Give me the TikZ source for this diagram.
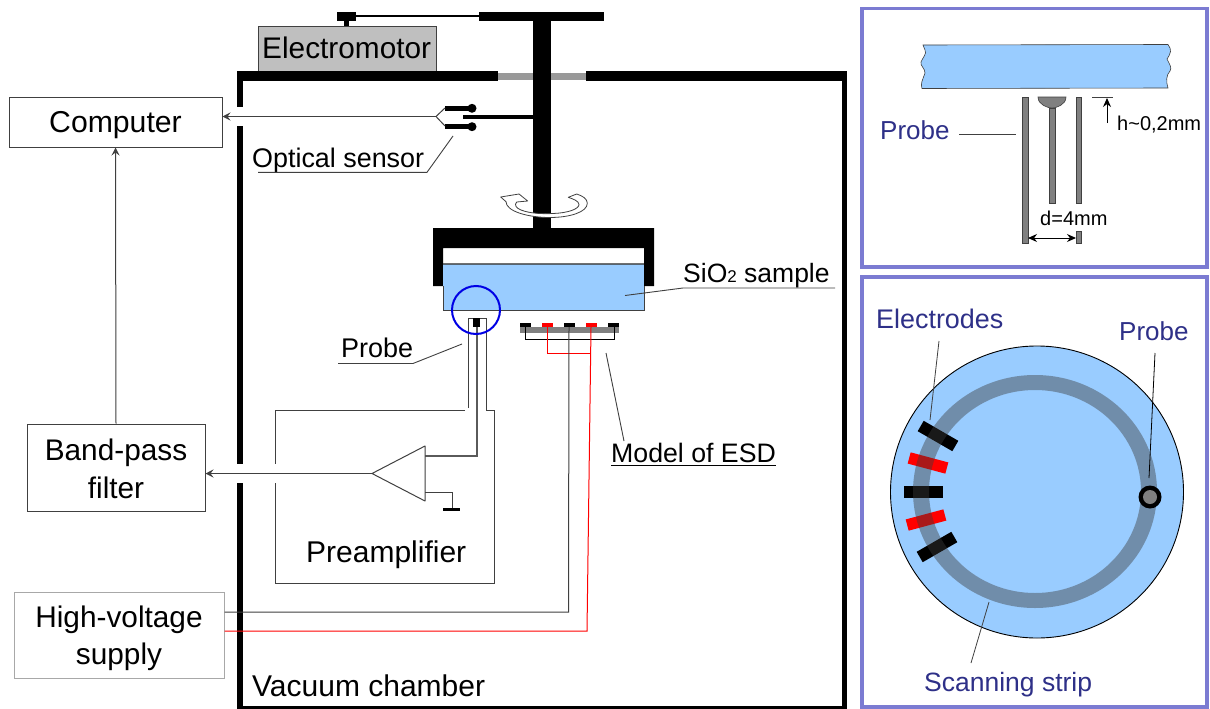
\documentclass[tikz,border=0pt]{standalone}
\usepackage{fontspec}
\setmainfont{Liberation Sans}
\usetikzlibrary{arrows.meta}
\definecolor{sampleblue}{HTML}{99CCFF}
\definecolor{panelblue}{HTML}{7B7BD2}
\definecolor{navytext}{HTML}{2E3088}
\definecolor{wire}{HTML}{404040}
\definecolor{lightframe}{HTML}{A8A8A8}
\definecolor{motorgray}{HTML}{BFBFBF}
\definecolor{sealgray}{HTML}{999999}
\definecolor{tubegray}{HTML}{808080}
\definecolor{stripgray}{HTML}{3C3C3C}
\newcommand{\fs}[1]{\fontsize{#1}{#1}\selectfont}
\tikzset{
  x=1pt,y=-1pt,
  solid/.style={fill=black,draw=none},
  wireline/.style={draw=wire,line width=1pt},
  redline/.style={draw=red,line width=1pt},
  leader/.style={draw=wire,line width=.9pt},
  sigarrow/.style={wireline,-{Stealth[length=8pt,width=8pt,inset=3pt]}},
  boxnode/.style={draw=wire,line width=1pt,fill=white,inner sep=0pt,align=center,font=\fs{29.8},text=black},
  lab/.style={anchor=base west,inner sep=0pt,text=black},
  navylab/.style={anchor=base west,inner sep=0pt,text=navytext},
  panel/.style={draw=panelblue,line width=3.5pt,fill=white},
  tube/.style={fill=tubegray,draw=wire,line width=.6pt},
  elblack/.style={fill=black,draw=none},
  elred/.style={fill=red,draw=none},
  dimarrow/.style={draw=black,line width=1pt,{Stealth[length=9pt,width=8pt]}-{Stealth[length=9pt,width=8pt]}},
}
\begin{document}
\begin{tikzpicture}
\useasboundingbox (0,0) rectangle (1210,709);
\fill[white] (0,0) rectangle (1210,709);

% ---- vacuum chamber walls
\fill[motorgray,draw=wire,line width=.5pt] (258,26) rectangle (436,71);
\fill[solid] (237,71) rectangle (498,81);
\fill[solid] (586,71) rectangle (847,81);
\fill[sealgray] (498,73) rectangle (586,80);
\fill[solid] (237,71) rectangle (243,107);
\fill[solid] (237,126) rectangle (243,464);
\fill[solid] (237,483) rectangle (243,709);
\fill[solid] (842,71) rectangle (847,709);
\fill[solid] (237,705.5) rectangle (847,708.5);

% ---- motor drive and shaft
\fill[solid] (337,12) rectangle (356,21);
\fill[solid] (344,21) rectangle (349,26);
\fill[solid] (356,14.8) rectangle (479,17.4);
\fill[solid] (479,12) rectangle (604,21);
\fill[solid] (533,20) rectangle (551,230);
\node[lab,font=\fs{29.8}] (motorlab) at (262,59) {Electromotor};

% ---- rotation arrow
\path[fill=white,draw=wire,line width=.8pt,line join=round]
  (500.7,197) -- (519,194) -- (527.7,201) -- (516.7,202)
  .. controls (514,205) and (516,208) .. (521,210)
  .. controls (530,213.5) and (542,214) .. (553,213.5)
  .. controls (568,213) and (579,209) .. (579,204.5)
  .. controls (579,201) and (573,199) .. (568.3,197.3)
  -- (576.7,194)
  .. controls (583,196) and (587.3,199) .. (587.3,203.3)
  .. controls (587.3,212) and (570,217.5) .. (550,217.5)
  .. controls (527,217.5) and (506,211) .. (506,201.7)
  -- cycle;

% ---- optical sensor
\fill[solid] (445,106) rectangle (470,110.7);
\fill[solid] (445,124) rectangle (470,128.7);
\fill[solid] (472,108.3) circle[radius=4.5];
\fill[solid] (472,126.7) circle[radius=4.5];
\fill[solid] (463,115.3) rectangle (533,118.7);
\coordinate (fork) at (436,116.5);
\coordinate (forkup) at (445,108);
\coordinate (forkdn) at (445,126);
\draw[wireline] (forkup) -- (fork) -- (forkdn);

% ---- holder and sample
\fill[solid] (433,228) -- (654,228) -- (654,286) -- (644,286) -- (644,248) -- (443,248) -- (443,286) -- (433,286) -- cycle;
\fill[sampleblue] (443,264) rectangle (644,310);
\draw[wire,line width=1pt] (443,286) -- (443,310) -- (644,310) -- (644,286);
\draw[draw=wire,opacity=.75,line width=1.6pt] (443,264) -- (644,264);

% ---- probe
\draw[wireline] (468,408) -- (468,318) -- (486,318) -- (486,410);
\fill[solid] (473,318) rectangle (480,327);
\coordinate (ampin) at (425,456);
\draw[draw=tubegray!70!black,line width=1.3pt] (477,327) -- (477,456) -- (ampin);
\draw[draw=blue!90!black,line width=2pt] (476,310) circle[radius=24];

% ---- model of ESD
\fill[tubegray] (520,327) rectangle (619,333);
\foreach \xa/\col in {520/black,542/red,564/black,586/red,608/black}
  \fill[\col] (\xa,322.7) rectangle ++(11,4.5);
\draw[wireline,draw=black] (525.5,327) -- (525.5,339) -- (614,339) -- (614,327);
\draw[redline] (547.5,327) -- (547.5,353.5) -- (591,353.5);
\coordinate (hvblack) at (569,327);
\coordinate (hvred) at (591,327);

% ---- preamplifier
\draw[wireline] (465,410) -- (275,410) -- (275,464);
\draw[wireline] (275,483) -- (275,583) -- (494,583) -- (494,410) -- (486,410);
\coordinate (ampout) at (372,473.5);
\path[fill=white,draw=wire,line width=1pt,line join=round] (ampout) -- (425,446) -- (425,501) -- cycle;
\coordinate (gnd) at (452,508);
\draw[wireline] (425,492) -- (452,492) -- (gnd);
\fill[solid] (443,507.5) rectangle (460,511);
\node[lab,font=\fs{30}] (prelab) at (306,562) {Preamplifier};

% ---- outside boxes
\node[boxnode,font=\fs{30.2},text height=24pt,text depth=4pt,minimum width=213pt,minimum height=50pt] (computer) at (115.5,122) {Computer};
\node[boxnode,minimum width=178pt,minimum height=87pt] (bandpass) at (116,467.5) {\rule{0pt}{24.5pt}Band-pass\\[7.5pt]filter};
\node[boxnode,draw=lightframe,minimum width=210pt,minimum height=86pt] (hvsupply) at (119,635) {\rule{0pt}{28.5pt}High-voltage\\[7.5pt]supply};

\draw[sigarrow] (bandpass.north) -- (computer.south);
\draw[sigarrow] (fork) -- (fork-|computer.east);
\draw[sigarrow] (ampout) -- (ampout-|bandpass.east);
\draw[wireline] (hvsupply.east|-0,612) -- (568.5,612) -- (hvblack);
\draw[redline] (hvsupply.east|-0,631) -- (587,631) -- (hvred);

% ---- labels of the main drawing
\node[lab,font=\fs{26.9}] (optlab) at (252,167) {Optical sensor};
\coordinate (optA) at (258,172.3); \coordinate (optB) at (427,172.3); \coordinate (optC) at (453,136);
\draw[leader] (optA) -- (optB) -- (optC);
\node[lab,font=\fs{27}] (probelab) at (341,357) {Probe};
\coordinate (prA) at (338,363.5); \coordinate (prB) at (413,363.5); \coordinate (prC) at (462,344);
\draw[leader] (prA) -- (prB) -- (prC);
\node[lab,font=\fs{26.7}] (esdlab) at (611,462) {Model of ESD};
\coordinate (esA) at (611,465.5); \coordinate (esB) at (776,465.5);
\draw[draw=black,line width=1pt] (esA) -- (esB);
\coordinate (esC) at (606,353); \coordinate (esD) at (624,441);
\draw[leader] (esC) -- (esD);
\node[lab,font=\fs{26.5}] (siolab) at (683,282) {SiO{\fs{17}2} sample};
\coordinate (siA) at (835,288); \coordinate (siB) at (683,288); \coordinate (siC) at (625,295.5);
\draw[leader] (siA) -- (siB) -- (siC);
\node[lab,font=\fs{30}] (vaclab) at (252,696) {Vacuum chamber};

% ---- top right panel
\draw[panel] (862,8.7) rectangle (1207,267);
\path[fill=sampleblue,draw=wire,line width=.6pt]
  (923,45) -- (1168,44.5)
  .. controls (1172,50) and (1171,53) .. (1167,59)
  .. controls (1170,65) and (1172,68) .. (1170,71)
  .. controls (1166,75) and (1166,82) .. (1168,88)
  -- (922,88.5)
  .. controls (920,84) and (923,79) .. (925,73)
  .. controls (925,68) and (920,66) .. (921,62)
  .. controls (923,57) and (927,54) .. (925,50)
  -- cycle;
\fill[tube] (1022,97) rectangle (1028,243);
\fill[tube] (1076,97) rectangle (1081,203);
\fill[tube] (1076,231) rectangle (1081,243);
\fill[tube] (1049.5,108) rectangle (1055,203);
\path[tube,fill=tubegray] (1038,97) -- (1066,97) .. controls (1066,105) and (1056,108) .. (1052,108) .. controls (1048,108) and (1038,105) .. (1038,97) -- cycle;
\coordinate (dA) at (1028,238); \coordinate (dB) at (1076,238);
\draw[dimarrow] (dA) -- (dB);
\coordinate (hA) at (1092,97.5); \coordinate (hB) at (1113,97.5);
\draw[draw=wire,line width=.8pt] (hA) -- (hB);
\coordinate (hC) at (1107,123); \coordinate (hD) at (1107,98);
\draw[draw=black,line width=1pt,-{Stealth[length=9pt,width=8pt]}] (hC) -- (hD);
\node[lab,font=\fs{20}] (dlab) at (1040,225) {d=4mm};
\node[lab,font=\fs{20}] (hlab) at (1117,130) {h\textasciitilde0,2mm};
\node[navylab,font=\fs{26}] (probetop) at (880,139) {Probe};
\coordinate (ptA) at (959,134); \coordinate (ptB) at (1016,134);
\draw[draw=wire,line width=.7pt] (ptA) -- (ptB);

% ---- bottom right panel
\draw[panel] (862,277) rectangle (1207,707);
\path[fill=sampleblue,draw=black,line width=.9pt] (1037,492) ellipse[x radius=146.5,y radius=146];
\begin{scope}[shift={(938,436)},rotate=-30] \fill[elblack] (-20,-6) rectangle (20,6); \end{scope}
\begin{scope}[shift={(928,463)},rotate=-15] \fill[elred] (-19.5,-5.8) rectangle (19.5,5.8); \end{scope}
\fill[elblack] (903.5,485.5) rectangle (942.5,497.5);
\begin{scope}[shift={(926,520)},rotate=15] \fill[elred] (-19.5,-5.8) rectangle (19.5,5.8); \end{scope}
\begin{scope}[shift={(937,547)},rotate=30] \fill[elblack] (-20,-6) rectangle (20,6); \end{scope}
\path[fill=stripgray,fill opacity=.43,even odd rule] (1035,491.5) ellipse[x radius=122,y radius=116.5] (1035,491.5) ellipse[x radius=106,y radius=101.5];
\fill[solid] (1150,497) circle[radius=11.5];
\fill[tubegray] (1150,497) circle[radius=7];
\coordinate (plA) at (1155,353); \coordinate (plB) at (1149,478);
\draw[draw=black,line width=.8pt] (plA) -- (plB);
\coordinate (elA) at (939,341); \coordinate (elB) at (930,420);
\draw[draw=wire,line width=.8pt] (elA) -- (elB);
\coordinate (scA) at (989,602); \coordinate (scB) at (971,663);
\draw[draw=wire,line width=.8pt] (scA) -- (scB);
\node[navylab,font=\fs{26.9}] (ellab) at (876,328) {Electrodes};
\node[navylab,font=\fs{26}] (probebot) at (1119,340) {Probe};
\node[navylab,font=\fs{26.5}] (scanlab) at (924,691) {Scanning strip};
\end{tikzpicture}
\end{document}
